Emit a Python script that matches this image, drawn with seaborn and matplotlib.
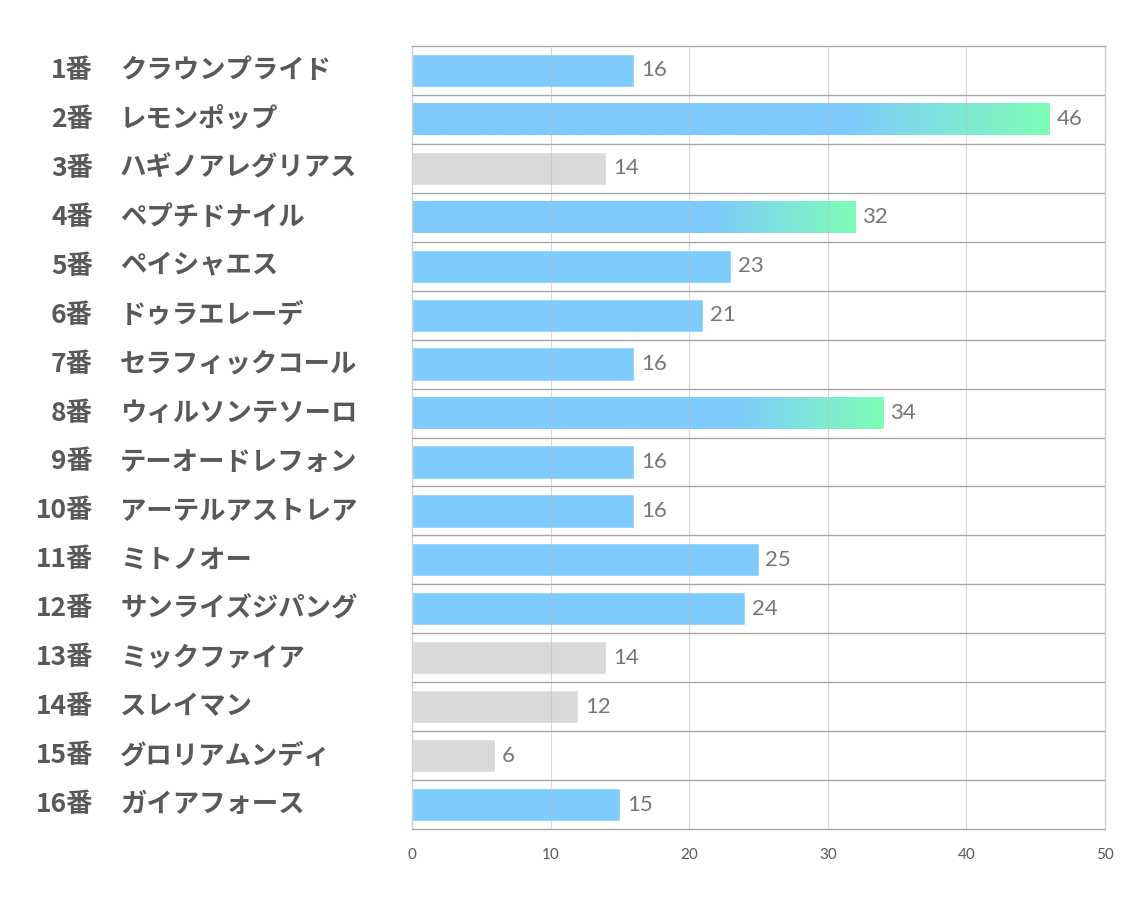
import numpy as np
import pandas as pd
import matplotlib
matplotlib.use("Agg")
import matplotlib.pyplot as plt
import seaborn as sns
from matplotlib.colors import LinearSegmentedColormap

numbers = ["1番", "2番", "3番", "4番", "5番", "6番", "7番", "8番",
           "9番", "10番", "11番", "12番", "13番", "14番", "15番", "16番"]
horses = ["クラウンプライド", "レモンポップ", "ハギノアレグリアス", "ペプチドナイル",
          "ペイシャエス", "ドゥラエレーデ", "セラフィックコール", "ウィルソンテソーロ",
          "テーオードレフォン", "アーテルアストレア", "ミトノオー", "サンライズジパング",
          "ミックファイア", "スレイマン", "グロリアムンディ", "ガイアフォース"]
values = [16, 46, 14, 32, 23, 21, 16, 34, 16, 16, 25, 24, 14, 12, 6, 15]
groups = ["blue", "grad", "gray", "grad", "blue", "blue", "blue", "grad",
          "blue", "blue", "blue", "blue", "gray", "gray", "gray", "blue"]
x_ticks = [0, 10, 20, 30, 40, 50]

BLUE = "#7ECBFD"
GREEN = "#7EFDB7"
GRAY = "#D9D9D9"

sns.set_theme(style="white")
plt.rcParams["font.family"] = ["Noto Sans CJK JP", "DejaVu Sans"]

df = pd.DataFrame({"horse": horses, "value": values, "group": groups})
palette = {"blue": BLUE, "grad": BLUE, "gray": GRAY}

fig = plt.figure(figsize=(11.34, 9.07), dpi=100)
ax = fig.add_axes([412 / 1134, 1 - 829 / 907, (1105 - 412) / 1134, (829 - 46) / 907])

sns.barplot(data=df, x="value", y="horse", hue="group", palette=palette,
            orient="h", width=0.68, dodge=False, legend=False, ax=ax,
            saturation=1, order=horses)

# gradient fill over whole bar (blue for first 68%, then fading to green)
cmap = LinearSegmentedColormap.from_list("bg", [(0.0, BLUE), (0.68, BLUE), (1.0, GREEN)])
grad = np.linspace(0, 1, 512).reshape(1, -1)
patches = sorted(ax.patches, key=lambda p: p.get_y())
for p, v, g in zip(patches, values, groups):
    if g == "grad":
        y0, h = p.get_y(), p.get_height()
        p.set_visible(False)
        ax.imshow(grad, extent=[0, v, y0 + h - 0.015, y0 + 0.015], cmap=cmap,
                  aspect="auto", zorder=2.5, interpolation="bilinear")
ax.set_xlim(0, 50)
ax.set_ylim(len(horses) - 0.5, -0.5)

# grid
for t in x_ticks[1:-1]:
    ax.axvline(t, color="#BFBFBF", lw=0.8, alpha=0.6, zorder=4)
for i in range(len(horses) - 1):
    ax.axhline(i + 0.5, color="#A6A6A6", lw=1.0, zorder=4)

for s in ax.spines.values():
    s.set_visible(True)
    s.set_color("#A6A6A6")
    s.set_linewidth(1.0)
ax.spines["right"].set_color("#D0D0D0")
ax.spines["left"].set_color("#D0D0D0")

ax.set_xticks(x_ticks)
ax.set_xticklabels([str(t) for t in x_ticks], fontsize=11, color="#595959",
                   family=["Lato", "DejaVu Sans"])
ax.tick_params(axis="x", length=0, pad=14)
ax.set_yticks([])
ax.set_xlabel("")
ax.set_ylabel("")

# value labels
for i, v in enumerate(values):
    ax.annotate(str(v), xy=(v, i), xytext=(5, 0), textcoords="offset points",
                va="center", ha="left", fontsize=16, color="#767676",
                family=["Lato", "DejaVu Sans"], zorder=5)

# row labels
trans = matplotlib.transforms.blended_transform_factory(fig.transFigure, ax.transData)
for i, (n, h) in enumerate(zip(numbers, horses)):
    ax.text(93 / 1134, i, n, transform=trans, ha="right", va="center",
            fontsize=19, fontweight="bold", color="#595959", clip_on=False)
    ax.text(120 / 1134, i, h, transform=trans, ha="left", va="center",
            fontsize=19, fontweight="bold", color="#595959", clip_on=False)

fig.savefig("out.png", dpi=100, facecolor="white")
